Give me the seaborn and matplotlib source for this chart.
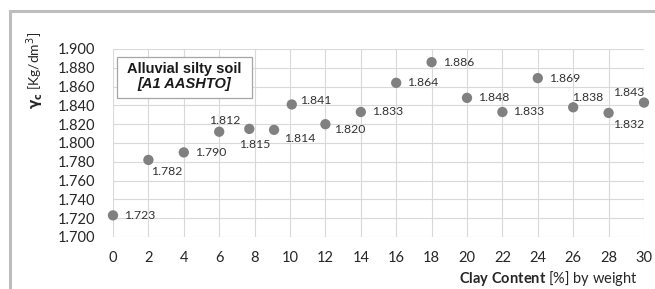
import matplotlib
matplotlib.use("Agg")
import matplotlib.pyplot as plt
import seaborn as sns
import pandas as pd
from matplotlib.patches import Rectangle

clay = [0, 2, 4, 6, 7.7, 9.1, 10.1, 12, 14, 16, 18, 20, 22, 24, 26, 28, 30]
density = [1.723, 1.782, 1.790, 1.812, 1.815, 1.814, 1.841, 1.820, 1.833,
           1.864, 1.886, 1.848, 1.833, 1.869, 1.838, 1.832, 1.843]
labels = ["1.723", "1.782", "1.790", "1.812", "1.815", "1.814", "1.841", "1.820",
          "1.833", "1.864", "1.886", "1.848", "1.833", "1.869", "1.838", "1.832", "1.843"]
x_ticks = list(range(0, 31, 2))
y_ticks = [1.700, 1.720, 1.740, 1.760, 1.780, 1.800, 1.820, 1.840, 1.860, 1.880, 1.900]

# label placement (offset in points, horizontal alignment)
offsets = [((8, 0), "left"), ((2, -8), "left"), ((8, 0), "left"), ((4, 8), "center"),
           ((4, -11), "center"), ((7, -6), "left"), ((6, 3), "left"), ((6, -4), "left"),
           ((8, 0), "left"), ((8, 0), "left"), ((8, 0), "left"), ((8, 0), "left"),
           ((8, 0), "left"), ((8, 0), "left"), ((-1, 7), "left"), ((3, -8), "left"),
           ((0, 7), "right")]

df = pd.DataFrame({"clay": clay, "density": density})

sns.set_theme(style="white")
plt.rcParams["font.family"] = ["Lato", "DejaVu Sans"]
plt.rcParams["mathtext.fontset"] = "custom"
plt.rcParams["mathtext.rm"] = "Lato"
plt.rcParams["mathtext.bf"] = "Lato:bold"
plt.rcParams["mathtext.it"] = "Lato:italic"

fig = plt.figure(figsize=(6.55, 2.89), dpi=100)
ax = fig.add_axes([113/655, 1-237/289, (644-113)/655, (237-49)/289])

sns.scatterplot(data=df, x="clay", y="density", ax=ax, s=55, color="#808080",
                edgecolor="none", clip_on=False, zorder=3)

ax.set_xlim(0, 30)
ax.set_ylim(1.700, 1.900)
ax.set_xticks(x_ticks)
ax.set_yticks(y_ticks)
ax.set_yticklabels([f"{v:.3f}" for v in y_ticks])
ax.grid(True, color="#d9d9d9", linewidth=0.8)
for s in ax.spines.values():
    s.set_visible(False)
ax.tick_params(axis="both", length=0, labelsize=10.5, colors="#262626")
ax.tick_params(axis="y", pad=13)
ax.tick_params(axis="x", pad=10)
ax.set_xlabel("")
ax.set_ylabel("")

for xv, yv, lab, (off, ha) in zip(clay, density, labels, offsets):
    ax.annotate(lab, (xv, yv), xytext=off, textcoords="offset points",
                ha=ha, va="center", fontsize=8.8, color="#333333")

ax.text(0.135, 0.894, "Alluvial silty soil", transform=ax.transAxes, ha="center",
        va="center", fontsize=10.5, fontweight="bold", family="Liberation Sans",
        color="#1a1a1a", zorder=4)
ax.text(0.135, 0.814, "[A1 AASHTO]", transform=ax.transAxes, ha="center",
        va="center", fontsize=10.5, fontweight="bold", style="italic",
        family="Liberation Sans", color="#1a1a1a", zorder=4)
ax.add_patch(Rectangle((0.0075, 0.739), 0.2545, 0.218, transform=ax.transAxes,
                       facecolor="white", edgecolor="#a6a6a6", linewidth=0.9, zorder=2))

fig.text(35/655, 1-70/289, r"$\mathbf{\gamma_c}$ [Kg/dm$^3$]", rotation=90,
         ha="center", va="center", fontsize=10, color="#262626",
         math_fontfamily="dejavusans")
fig.text(638/655, 1-279/289, r"$\mathbf{Clay\ Content}$ [%] by weight",
         ha="right", va="center", fontsize=10.5, color="#262626")

fig.patches.append(Rectangle((10/655, -0.1), 1.2, 1 - 10.7/289 + 0.1,
                             transform=fig.transFigure, facecolor="none",
                             edgecolor="#bdbdbd", linewidth=2.2, figure=fig))

fig.savefig("out.png", dpi=100)
